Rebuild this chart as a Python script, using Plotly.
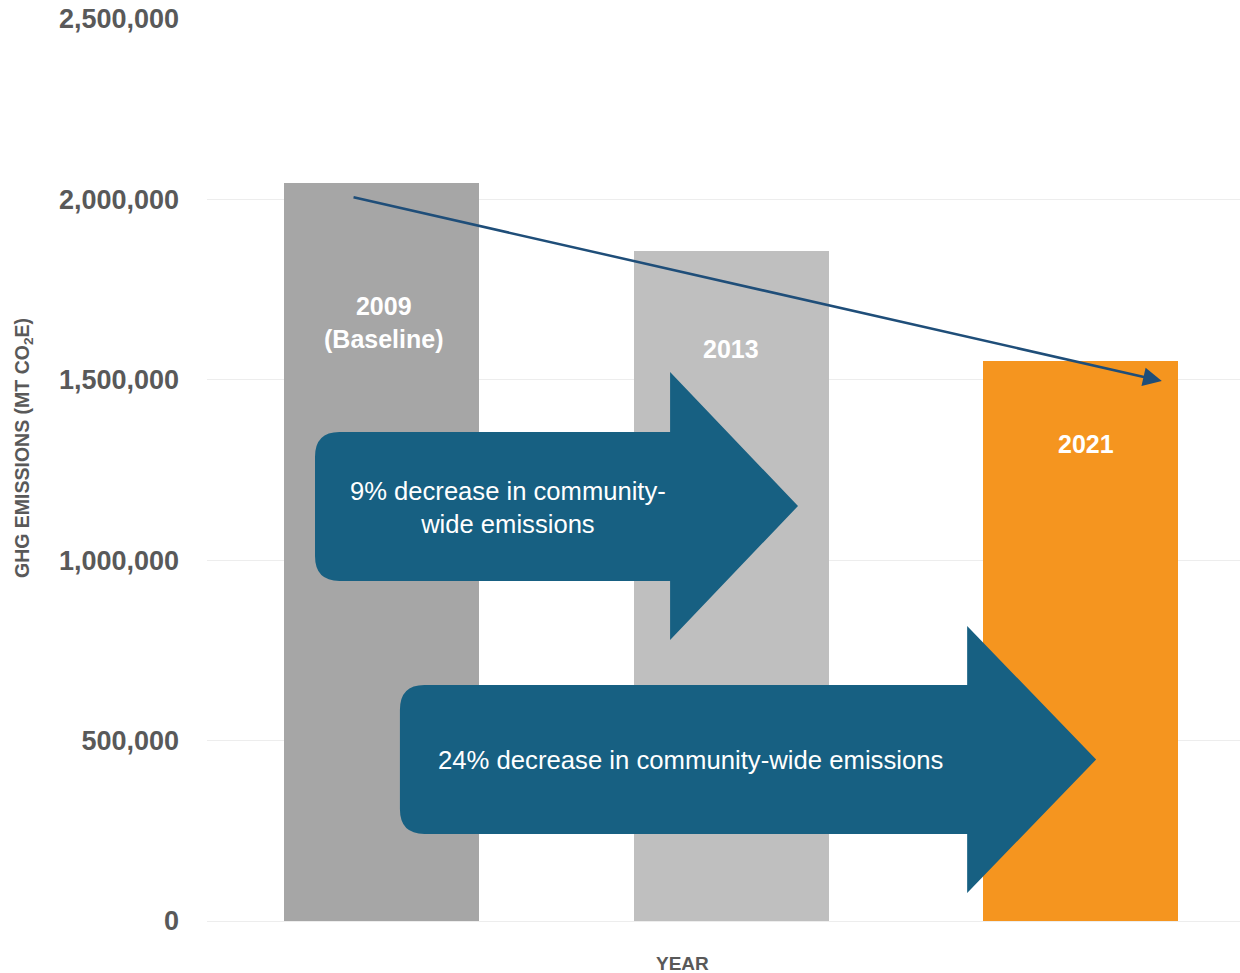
import plotly.graph_objects as go

# ---- data ----
years = ["2009", "2013", "2021"]
bar_labels = ["2009<br>(Baseline)", "2013", "2021"]
emissions = [2045000, 1857000, 1552000]
bar_colors = ["#a6a6a6", "#bfbfbf", "#f5951f"]
y_ticks = [0, 500000, 1000000, 1500000, 2000000, 2500000]
y_tick_text = ["0", "500,000", "1,000,000", "1,500,000", "2,000,000", "2,500,000"]
arrow_texts = ["9% decrease in community-<br>wide emissions",
               "24% decrease in community-wide emissions"]

FONT = "Liberation Sans, Arial, sans-serif"
GRAY = "#595959"
ARROW_BLUE = "#176082"

xpos = list(range(len(years)))

W, H = 1240, 973
ML, MT, MB = 207, 19, 52
PW = W - ML
PH = H - MT - MB

fig = go.Figure()
fig.add_trace(go.Bar(
    x=xpos, y=emissions, marker=dict(color=bar_colors, line=dict(width=0)),
    width=0.558, hoverinfo="y", showlegend=False,
))


def block_arrow(x0, xb, xt, yb0, yb1, yh0, yh1, rx, ry):
    """Block arrow path in data coordinates with rounded left corners."""
    ym = (yh0 + yh1) / 2
    return (f"M {x0+rx},{yb1} L {xb},{yb1} L {xb},{yh1} L {xt},{ym} "
            f"L {xb},{yh0} L {xb},{yb0} L {x0+rx},{yb0} "
            f"Q {x0},{yb0} {x0},{yb0+ry} L {x0},{yb1-ry} "
            f"Q {x0},{yb1} {x0+rx},{yb1} Z")


rx, ry = 0.07, 69000
shapes = [
    dict(type="path", xref="x", yref="y", layer="above",
         path=block_arrow(-0.191, 0.825, 1.191, 942350, 1355322, 778825, 1521619, rx, ry),
         fillcolor=ARROW_BLUE, line=dict(width=0)),
    dict(type="path", xref="x", yref="y", layer="above",
         path=block_arrow(0.052, 1.675, 2.044, 241131, 654102, 77605, 817627, rx, ry),
         fillcolor=ARROW_BLUE, line=dict(width=0)),
]

annotations = []
# bar labels (small horizontal nudges relative to bar centres)
label_dx = [0.005, 0.0, 0.015]
label_y = [1660000, 1585000, 1322000]
for xp, t, dx, ly in zip(xpos, bar_labels, label_dx, label_y):
    annotations.append(dict(x=xp + dx, y=ly, xref="x", yref="y", text=t, showarrow=False,
                            font=dict(family=FONT, size=25, color="white", weight="bold"),
                            align="center"))
# arrow texts
annotations.append(dict(x=0.361, y=1147450, xref="x", yref="y", text=arrow_texts[0],
                        showarrow=False, align="center",
                        font=dict(family=FONT, size=25.6, color="white")))
annotations.append(dict(x=0.882, y=446230, xref="x", yref="y", text=arrow_texts[1],
                        showarrow=False, align="center",
                        font=dict(family=FONT, size=25.7, color="white")))
# trend arrow
annotations.append(dict(x=2.232, y=1496674, ax=-0.085, ay=2006650, xref="x", yref="y",
                        axref="x", ayref="y", text="", showarrow=True,
                        arrowhead=2, arrowsize=1.5, arrowwidth=2.5, arrowcolor="#1f4e79"))
# axis titles
annotations.append(dict(x=(23 - ML) / PW, y=(921 - 448) / PH, xref="paper", yref="paper",
                        xanchor="center", yanchor="middle",
                        text="GHG EMISSIONS (MT CO<sub>2</sub>E)",
                        showarrow=False, textangle=-90,
                        font=dict(family=FONT, size=19.5, color=GRAY, weight="bold")))
annotations.append(dict(x=(682 - ML) / PW, y=-(963 - 921) / PH, xref="paper", yref="paper",
                        xanchor="center", yanchor="middle",
                        text="YEAR", showarrow=False,
                        font=dict(family=FONT, size=19, color=GRAY, weight="bold")))

fig.update_layout(
    width=W, height=H,
    margin=dict(l=ML, r=0, t=MT, b=MB, autoexpand=False),
    paper_bgcolor="white", plot_bgcolor="white",
    shapes=shapes, annotations=annotations,
    xaxis=dict(range=[-0.5, -0.5 + PW / 349.5], showticklabels=False, showgrid=False,
               zeroline=False, showline=False, fixedrange=True),
    yaxis=dict(range=[0, 2500000], tickvals=y_ticks, ticktext=y_tick_text,
               showgrid=True, gridcolor="#ededed", gridwidth=1, zeroline=True,
               zerolinecolor="#ededed", zerolinewidth=1, showline=False,
               ticks="", ticklabelstandoff=27, ticklabeloverflow="allow",
               tickfont=dict(family=FONT, size=27, color=GRAY, weight="bold")),
    bargap=0,
)

fig.write_html("out.html", config={"displayModeBar": False},
               post_script="document.body.style.margin='0';")
